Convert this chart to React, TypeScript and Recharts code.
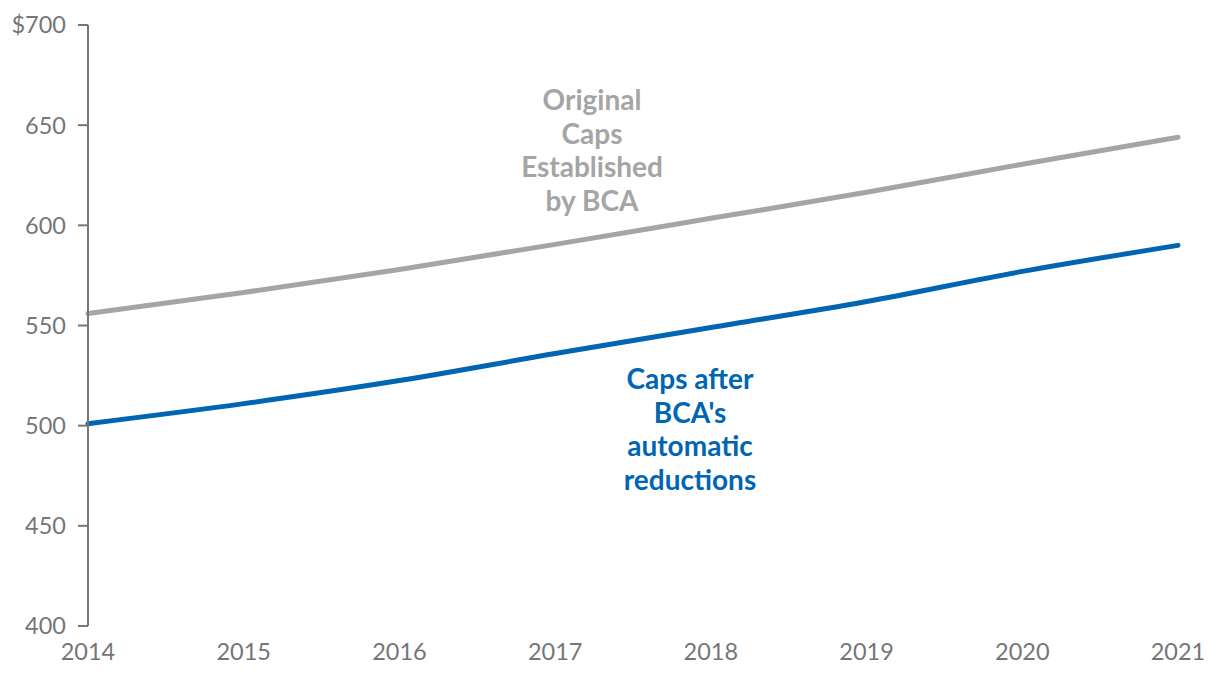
import React from "react";
import { LineChart, Line, XAxis, YAxis } from "recharts";

const years = ["2014", "2015", "2016", "2017", "2018", "2019", "2020", "2021"];
const originalCaps = [556, 566.5, 578, 590.5, 603.5, 616.5, 630.5, 644];
const reducedCaps = [501, 511, 522.5, 536, 549, 562, 577, 590];
const yTicks = [400, 450, 500, 550, 600, 650, 700];

const data = years.map((year, i) => ({
  year,
  original: originalCaps[i],
  reduced: reducedCaps[i],
}));

const FONT = "Lato, 'Open Sans', sans-serif";
const AXIS = "#767676";
const GRAY = "#A5A5A5";
const BLUE = "#0066B3";

const noteStyle: React.CSSProperties = {
  position: "absolute",
  fontFamily: FONT,
  fontWeight: 700,
  fontSize: 28,
  lineHeight: "33.5px",
  textAlign: "center",
  transform: "translateX(-50%)",
  whiteSpace: "nowrap",
};

export default function App() {
  return (
    <div style={{ position: "absolute", left: 0, top: 0, width: 1220, height: 678, background: "#fff" }}>
      <LineChart
        width={1220}
        height={678}
        data={data}
        margin={{ top: 25, right: 42, left: 0, bottom: 0 }}
      >
        <XAxis
          dataKey="year"
          axisLine={false}
          tickLine={false}
          height={52}
          tickMargin={11}
          tick={{ fill: AXIS, fontSize: 23.5, fontFamily: FONT }}
          interval={0}
        />
        <YAxis
          width={88}
          domain={[400, 700]}
          ticks={yTicks}
          tickFormatter={(v) => (v === 700 ? `$${v}` : `${v}`)}
          axisLine={{ stroke: AXIS, strokeWidth: 2 }}
          tickLine={{ stroke: AXIS, strokeWidth: 2 }}
          tickSize={10}
          tickMargin={12}
          tick={{ fill: AXIS, fontSize: 23.5, fontFamily: FONT }}
        />
        <Line
          dataKey="original"
          stroke={GRAY}
          strokeWidth={5}
          strokeLinecap="round"
          dot={false}
          type="monotone"
          isAnimationActive={false}
        />
        <Line
          dataKey="reduced"
          stroke={BLUE}
          strokeWidth={5}
          strokeLinecap="round"
          dot={false}
          type="monotone"
          isAnimationActive={false}
        />
      </LineChart>
      <div style={{ ...noteStyle, color: GRAY, left: 592, top: 83 }}>
        Original
        <br />
        Caps
        <br />
        Established
        <br />
        by BCA
      </div>
      <div style={{ ...noteStyle, color: BLUE, left: 690, top: 362 }}>
        Caps after
        <br />
        BCA's
        <br />
        automatic
        <br />
        reductions
      </div>
    </div>
  );
}
